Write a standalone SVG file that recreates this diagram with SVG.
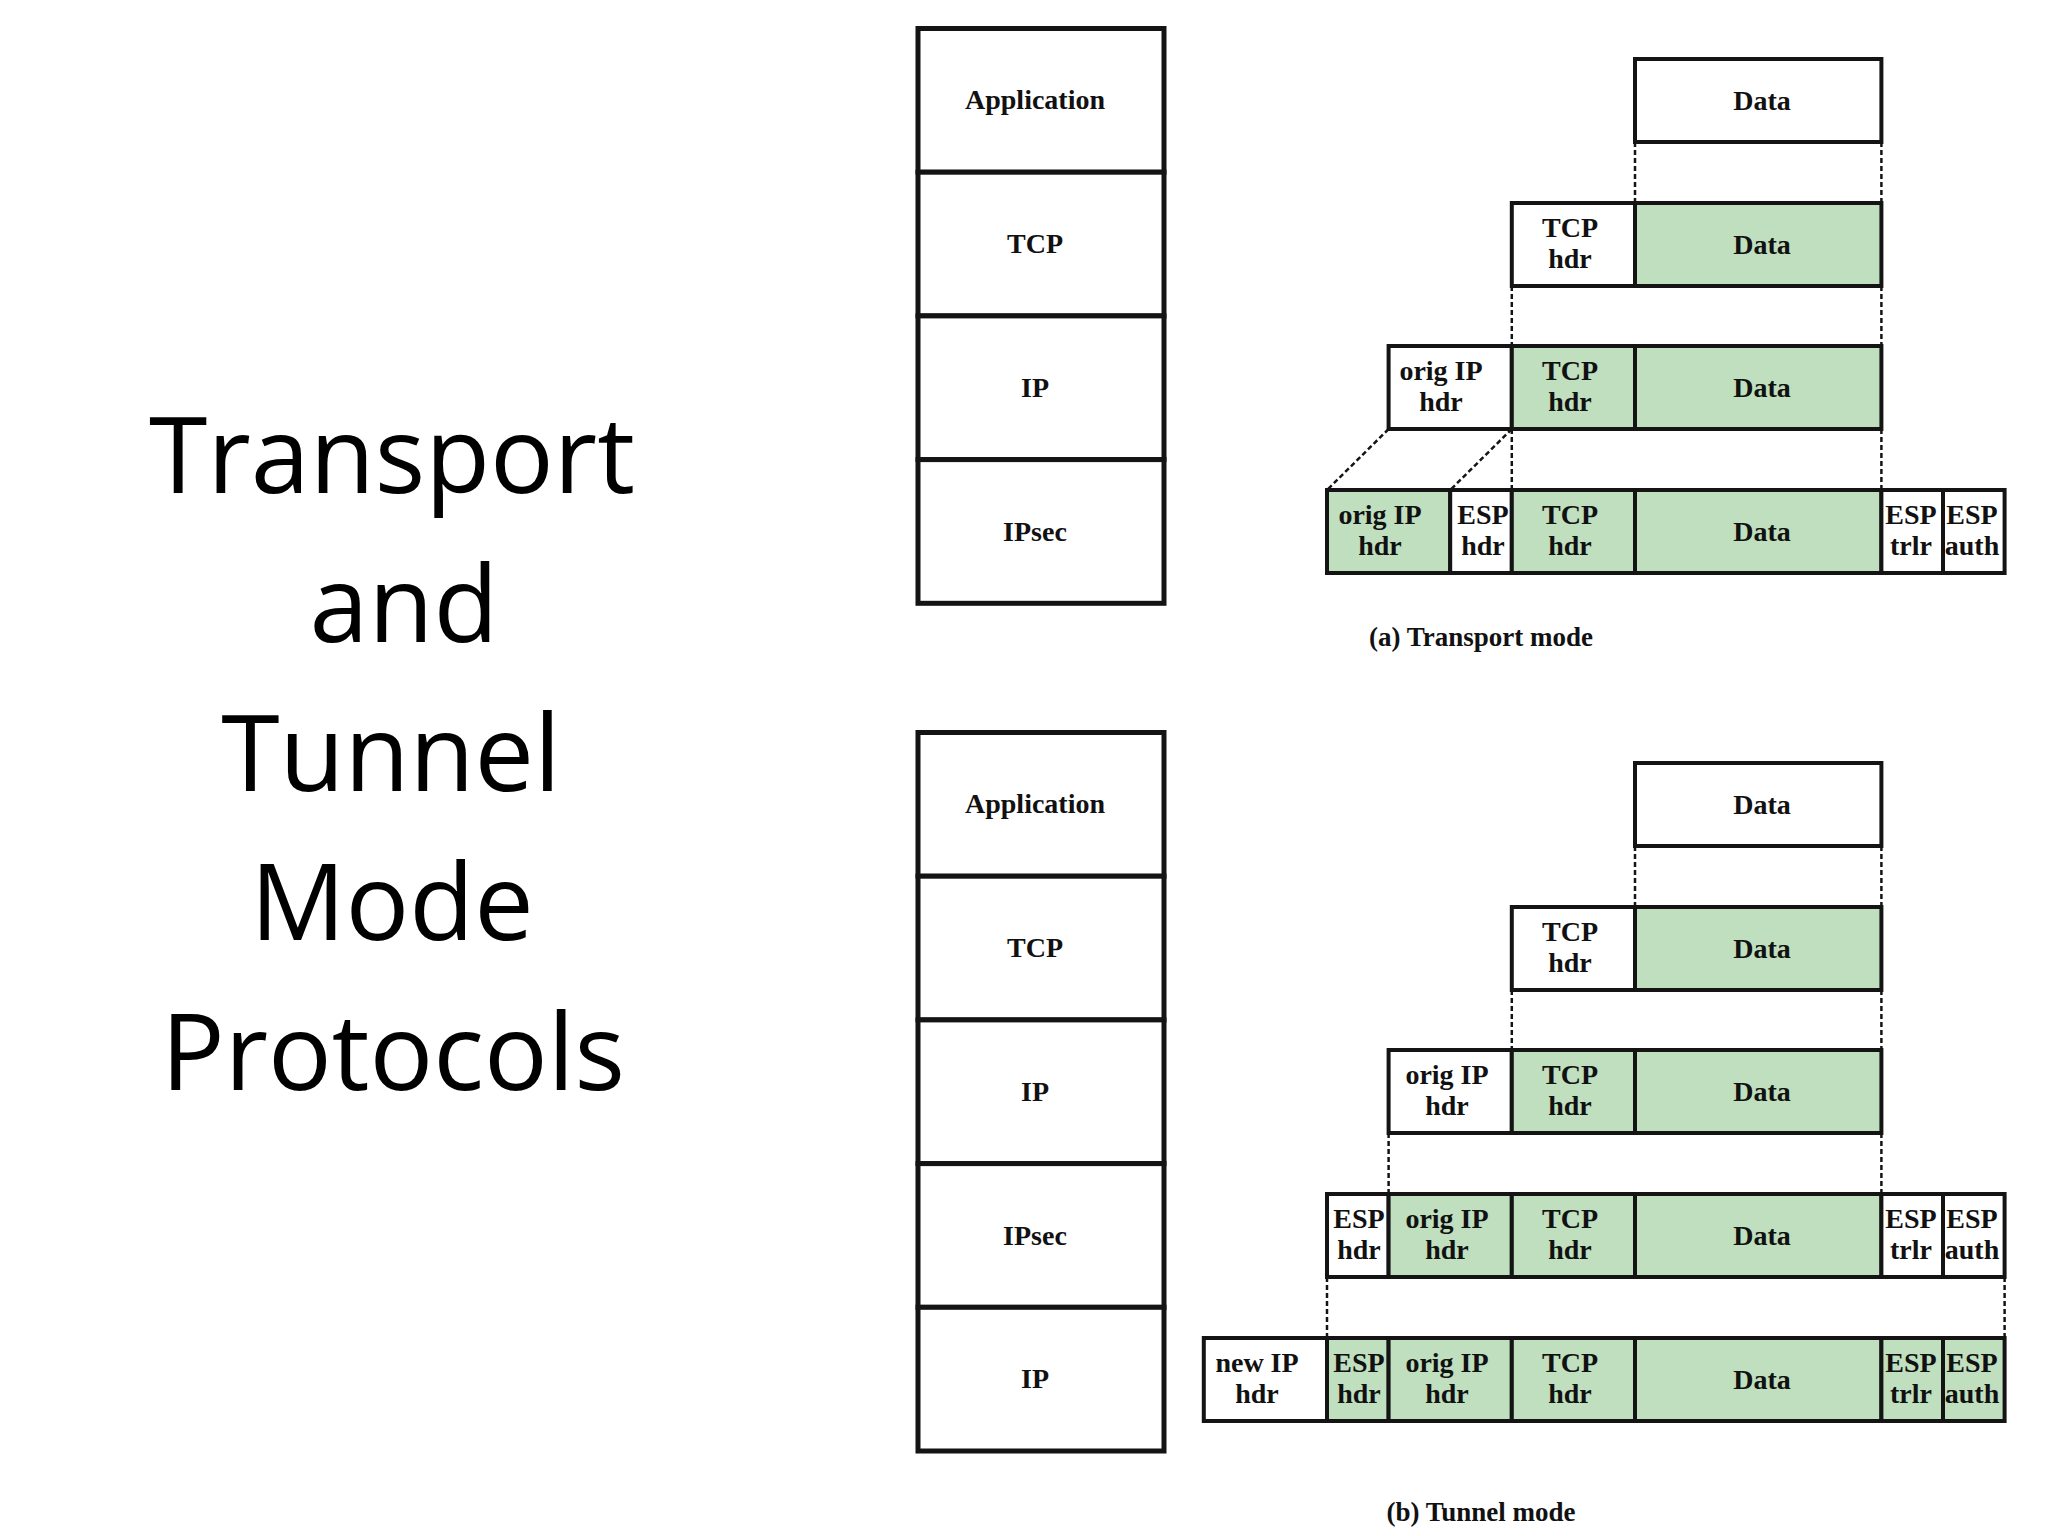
<svg xmlns="http://www.w3.org/2000/svg" width="2048" height="1536" viewBox="0 0 2048 1536">
<style>
.bg{fill:#ffffff}
.title{font-family:"Open Sans","Liberation Sans",sans-serif;font-size:106px;fill:#000;text-anchor:middle}
.stk{fill:#ffffff;stroke:#141414;stroke-width:5}
.w{fill:#ffffff;stroke:#141414;stroke-width:4}
.g{fill:#bfdfbf;stroke:#141414;stroke-width:4}
.lbl{font-family:"Liberation Serif","Times New Roman",serif;font-weight:bold;font-size:28px;fill:#111;text-anchor:middle}
.cap{font-family:"Liberation Serif","Times New Roman",serif;font-weight:bold;font-size:27px;fill:#111;text-anchor:middle}
.dash{fill:none;stroke:#141414;stroke-width:2.5;stroke-dasharray:5 3}
</style>
<rect class="bg" x="0" y="0" width="2048" height="1536"/>

<g id="title">
<text class="title" x="392" y="493">Transport</text>
<text class="title" x="404" y="642">and</text>
<text class="title" x="391" y="791">Tunnel</text>
<text class="title" x="392" y="940">Mode</text>
<text class="title" x="393" y="1090">Protocols</text>
</g>

<!-- Top stack -->
<g id="stack-a-application"><rect class="stk" x="918" y="28.5" width="246" height="143.7"/><text class="lbl" x="1035" y="109.4">Application</text></g>
<g id="stack-a-tcp"><rect class="stk" x="918" y="172.2" width="246" height="143.7"/><text class="lbl" x="1035" y="253">TCP</text></g>
<g id="stack-a-ip"><rect class="stk" x="918" y="315.9" width="246" height="143.7"/><text class="lbl" x="1035" y="396.8">IP</text></g>
<g id="stack-a-ipsec"><rect class="stk" x="918" y="459.6" width="246" height="143.7"/><text class="lbl" x="1035" y="540.5">IPsec</text></g>

<!-- Bottom stack -->
<g id="stack-b-application"><rect class="stk" x="918" y="732.5" width="246" height="143.7"/><text class="lbl" x="1035" y="813.4">Application</text></g>
<g id="stack-b-tcp"><rect class="stk" x="918" y="876.2" width="246" height="143.7"/><text class="lbl" x="1035" y="957">TCP</text></g>
<g id="stack-b-ip"><rect class="stk" x="918" y="1019.9" width="246" height="143.7"/><text class="lbl" x="1035" y="1100.8">IP</text></g>
<g id="stack-b-ipsec"><rect class="stk" x="918" y="1163.6" width="246" height="143.7"/><text class="lbl" x="1035" y="1244.5">IPsec</text></g>
<g id="stack-b-ip2"><rect class="stk" x="918" y="1307.3" width="246" height="143.7"/><text class="lbl" x="1035" y="1388.2">IP</text></g>

<!-- connectors -->
<g id="connectors">
<line class="dash" x1="1635" y1="142" x2="1635" y2="203"/>
<line class="dash" x1="1881.4" y1="142" x2="1881.4" y2="203"/>
<line class="dash" x1="1511.8" y1="286" x2="1511.8" y2="346"/>
<line class="dash" x1="1881.4" y1="286" x2="1881.4" y2="346"/>
<line class="dash" x1="1388.6" y1="429" x2="1327" y2="490"/>
<line class="dash" x1="1511.8" y1="429" x2="1450.2" y2="490"/>
<line class="dash" x1="1511.8" y1="429" x2="1511.8" y2="490"/>
<line class="dash" x1="1881.4" y1="429" x2="1881.4" y2="490"/>

<line class="dash" x1="1635" y1="846" x2="1635" y2="907"/>
<line class="dash" x1="1881.4" y1="846" x2="1881.4" y2="907"/>
<line class="dash" x1="1511.8" y1="990" x2="1511.8" y2="1050"/>
<line class="dash" x1="1881.4" y1="990" x2="1881.4" y2="1050"/>
<line class="dash" x1="1388.6" y1="1133" x2="1388.6" y2="1194"/>
<line class="dash" x1="1881.4" y1="1133" x2="1881.4" y2="1194"/>
<line class="dash" x1="1327" y1="1277" x2="1327" y2="1338"/>
<line class="dash" x1="2004.6" y1="1277" x2="2004.6" y2="1338"/>
</g>

<!-- (a) Transport mode -->
<g id="a-row1">
<rect class="w" x="1635" y="59" width="246.4" height="83"/><text class="lbl" x="1762" y="110">Data</text>
</g>
<g id="a-row2">
<rect class="w" x="1511.8" y="203" width="123.2" height="83"/><text class="lbl" x="1570" y="236.5">TCP</text><text class="lbl" x="1570" y="267.5">hdr</text>
<rect class="g" x="1635" y="203" width="246.4" height="83"/><text class="lbl" x="1762" y="254">Data</text>
</g>
<g id="a-row3">
<rect class="w" x="1388.6" y="346" width="123.2" height="83"/><text class="lbl" x="1441" y="379.5">orig IP</text><text class="lbl" x="1441" y="410.5">hdr</text>
<rect class="g" x="1511.8" y="346" width="123.2" height="83"/><text class="lbl" x="1570" y="379.5">TCP</text><text class="lbl" x="1570" y="410.5">hdr</text>
<rect class="g" x="1635" y="346" width="246.4" height="83"/><text class="lbl" x="1762" y="397">Data</text>
</g>
<g id="a-row4">
<rect class="g" x="1327" y="490" width="123.2" height="83"/><text class="lbl" x="1380" y="523.5">orig IP</text><text class="lbl" x="1380" y="554.5">hdr</text>
<rect class="w" x="1450.2" y="490" width="61.6" height="83"/><text class="lbl" x="1483" y="523.5">ESP</text><text class="lbl" x="1483" y="554.5">hdr</text>
<rect class="g" x="1511.8" y="490" width="123.2" height="83"/><text class="lbl" x="1570" y="523.5">TCP</text><text class="lbl" x="1570" y="554.5">hdr</text>
<rect class="g" x="1635" y="490" width="246.4" height="83"/><text class="lbl" x="1762" y="541">Data</text>
<rect class="w" x="1881.4" y="490" width="61.6" height="83"/><text class="lbl" x="1911" y="523.5">ESP</text><text class="lbl" x="1911" y="554.5">trlr</text>
<rect class="w" x="1943" y="490" width="61.6" height="83"/><text class="lbl" x="1972" y="523.5">ESP</text><text class="lbl" x="1972" y="554.5">auth</text>
</g>
<text class="cap" x="1481" y="646">(a) Transport mode</text>

<!-- (b) Tunnel mode -->
<g id="b-row1">
<rect class="w" x="1635" y="763" width="246.4" height="83"/><text class="lbl" x="1762" y="814">Data</text>
</g>
<g id="b-row2">
<rect class="w" x="1511.8" y="907" width="123.2" height="83"/><text class="lbl" x="1570" y="940.5">TCP</text><text class="lbl" x="1570" y="971.5">hdr</text>
<rect class="g" x="1635" y="907" width="246.4" height="83"/><text class="lbl" x="1762" y="958">Data</text>
</g>
<g id="b-row3">
<rect class="w" x="1388.6" y="1050" width="123.2" height="83"/><text class="lbl" x="1447" y="1083.5">orig IP</text><text class="lbl" x="1447" y="1114.5">hdr</text>
<rect class="g" x="1511.8" y="1050" width="123.2" height="83"/><text class="lbl" x="1570" y="1083.5">TCP</text><text class="lbl" x="1570" y="1114.5">hdr</text>
<rect class="g" x="1635" y="1050" width="246.4" height="83"/><text class="lbl" x="1762" y="1101">Data</text>
</g>
<g id="b-row4">
<rect class="w" x="1327" y="1194" width="61.6" height="83"/><text class="lbl" x="1359" y="1227.5">ESP</text><text class="lbl" x="1359" y="1258.5">hdr</text>
<rect class="g" x="1388.6" y="1194" width="123.2" height="83"/><text class="lbl" x="1447" y="1227.5">orig IP</text><text class="lbl" x="1447" y="1258.5">hdr</text>
<rect class="g" x="1511.8" y="1194" width="123.2" height="83"/><text class="lbl" x="1570" y="1227.5">TCP</text><text class="lbl" x="1570" y="1258.5">hdr</text>
<rect class="g" x="1635" y="1194" width="246.4" height="83"/><text class="lbl" x="1762" y="1245">Data</text>
<rect class="w" x="1881.4" y="1194" width="61.6" height="83"/><text class="lbl" x="1911" y="1227.5">ESP</text><text class="lbl" x="1911" y="1258.5">trlr</text>
<rect class="w" x="1943" y="1194" width="61.6" height="83"/><text class="lbl" x="1972" y="1227.5">ESP</text><text class="lbl" x="1972" y="1258.5">auth</text>
</g>
<g id="b-row5">
<rect class="w" x="1203.8" y="1338" width="123.2" height="83"/><text class="lbl" x="1257" y="1371.5">new IP</text><text class="lbl" x="1257" y="1402.5">hdr</text>
<rect class="g" x="1327" y="1338" width="61.6" height="83"/><text class="lbl" x="1359" y="1371.5">ESP</text><text class="lbl" x="1359" y="1402.5">hdr</text>
<rect class="g" x="1388.6" y="1338" width="123.2" height="83"/><text class="lbl" x="1447" y="1371.5">orig IP</text><text class="lbl" x="1447" y="1402.5">hdr</text>
<rect class="g" x="1511.8" y="1338" width="123.2" height="83"/><text class="lbl" x="1570" y="1371.5">TCP</text><text class="lbl" x="1570" y="1402.5">hdr</text>
<rect class="g" x="1635" y="1338" width="246.4" height="83"/><text class="lbl" x="1762" y="1389">Data</text>
<rect class="g" x="1881.4" y="1338" width="61.6" height="83"/><text class="lbl" x="1911" y="1371.5">ESP</text><text class="lbl" x="1911" y="1402.5">trlr</text>
<rect class="g" x="1943" y="1338" width="61.6" height="83"/><text class="lbl" x="1972" y="1371.5">ESP</text><text class="lbl" x="1972" y="1402.5">auth</text>
</g>
<text class="cap" x="1481" y="1521">(b) Tunnel mode</text>
</svg>
